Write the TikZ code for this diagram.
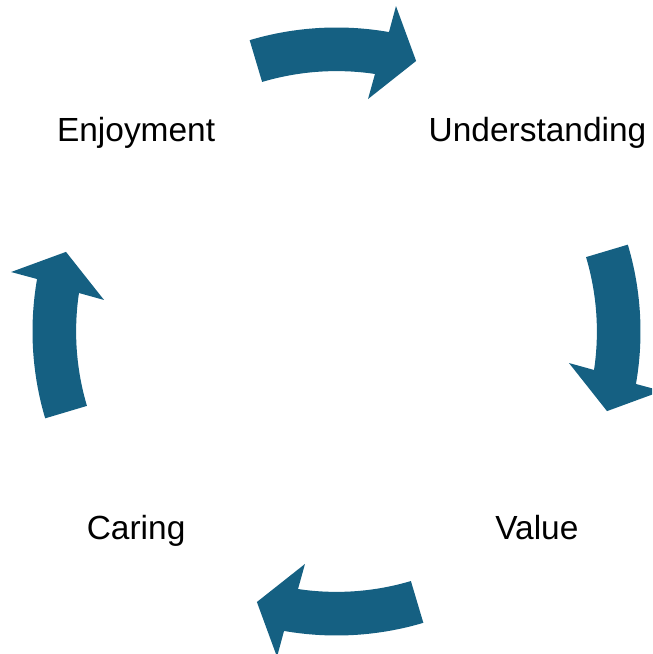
\documentclass[tikz,border=0pt]{standalone}
\usepackage{fontspec}
\setmainfont{Liberation Sans}
\usetikzlibrary{positioning}
\definecolor{cycleblue}{HTML}{156082}
\tikzset{stage/.style={
    inner sep=0pt,anchor=base,
    font=\fontsize{23.8}{28}\selectfont}}
\tikzset{bentarrow/.style={fill=cycleblue,draw=none}}

\begin{document}
\begin{tikzpicture}

  \clip (-8.4125,-8.0625) rectangle (7.8875,8.2875);

  \node (enjoy)   [stage] at (-5.01,4.76)  {Enjoyment};
  \node (underst) [stage] at (5.025,4.76)  {Understanding};
  \node (value)   [stage] at (5.01,-5.21)  {Value};
  \node (caring)  [stage] at (-5.01,-5.21) {Caring};

  \foreach \d in {90,0,-90,180}
    \fill [bentarrow] (\d+16.6:7.6) arc[start angle=\d+16.6,end angle=\d-9.94,radius=7.6]
      -- (\d-10.36:8.27) -- (\d-16.4:7.05) -- (\d-7.72:5.865) -- (\d-8.5:6.51)
      arc[start angle=\d-8.5,end angle=\d+16.6,radius=6.51] -- cycle;

\end{tikzpicture}
\end{document}
